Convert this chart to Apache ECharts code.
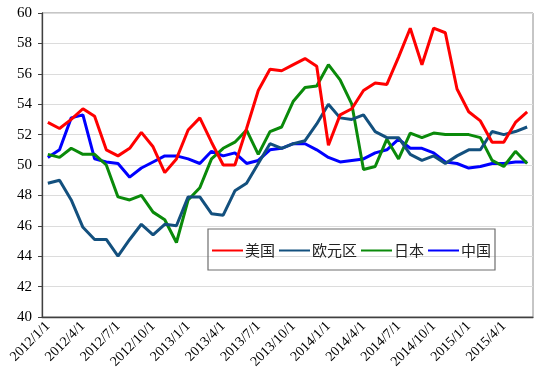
<!DOCTYPE html>
<html>
<head>
<meta charset="utf-8">
<script src="https://cdn.jsdelivr.net/npm/echarts@6/dist/echarts.min.js"></script>
<style>html,body{margin:0;padding:0;background:#fff}#c{width:550px;height:386px}</style>
</head>
<body>
<div id="c"></div>
<script>
var categories = [];
(function(){
  var y = 2012, m = 1;
  for (var i = 0; i < 42; i++) {
    categories.push(y + '/' + m + '/1');
    m++; if (m > 12) { m = 1; y++; }
  }
})();
var usa = [52.8,52.4,53.0,53.7,53.2,51.0,50.6,51.1,52.15,51.2,49.5,50.4,52.3,53.1,51.5,50.0,50.0,52.4,54.9,56.3,56.2,56.6,57.0,56.5,51.3,53.3,53.7,54.9,55.4,55.3,57.1,59.0,56.6,59.0,58.7,55.0,53.5,52.9,51.5,51.5,52.8,53.5];
var euro = [48.8,49.0,47.7,45.9,45.1,45.1,44.0,45.1,46.1,45.4,46.1,46.0,47.9,47.9,46.8,46.7,48.3,48.8,50.1,51.4,51.1,51.4,51.6,52.7,54.0,53.1,53.0,53.3,52.2,51.8,51.8,50.7,50.3,50.6,50.1,50.6,51.0,51.0,52.2,52.0,52.2,52.5];
var japan = [50.7,50.5,51.1,50.7,50.7,50.0,47.9,47.7,48.0,46.9,46.4,44.9,47.7,48.5,50.4,51.1,51.5,52.3,50.7,52.2,52.5,54.2,55.1,55.2,56.6,55.6,54.0,49.7,49.9,51.7,50.4,52.1,51.8,52.1,52.0,52.0,52.0,51.8,50.3,49.9,50.9,50.1];
var china = [50.5,51.0,53.1,53.3,50.4,50.2,50.1,49.2,49.8,50.2,50.6,50.6,50.4,50.1,50.9,50.6,50.8,50.1,50.3,51.0,51.1,51.4,51.4,51.0,50.5,50.2,50.3,50.4,50.8,51.0,51.7,51.1,51.1,50.8,50.2,50.1,49.8,49.9,50.1,50.1,50.2,50.2];
var seriesNames = ['美国','欧元区','日本','中国'];
var seriesColors = ['#ff0000','#13507e','#0a8a0a','#0000ff'];
var seriesData = [usa, euro, japan, china];

var chart = echarts.init(document.getElementById('c'), null, {renderer:'canvas'});
var serif = '"Liberation Serif","Times New Roman",serif';
chart.setOption({
  animation: false,
  backgroundColor: '#ffffff',
  grid: {left: 42, right: 17, top: 13, bottom: 69, show: true, borderColor: '#8c8c8c', borderWidth: 1},
  legend: {
    left: 208, top: 229, width: 300, height: 46,
    padding: [14, 4, 12, 4],
    borderColor: '#6e6e6e', borderWidth: 1.2,
    itemWidth: 31, itemHeight: 10, itemGap: 4,
    icon: 'path://M0,4 L31,4 L31,6 L0,6 Z',
    textStyle: {fontFamily: '"Noto Sans CJK SC",sans-serif', fontSize: 15, color: '#222', padding: [0,0,0,-3]},
    data: seriesNames
  },
  xAxis: {
    type: 'category', data: categories, boundaryGap: true,
    axisLine: {lineStyle: {color: '#404040', width: 1.3}},
    axisTick: {inside: true, length: 4, interval: 2, lineStyle: {color: '#404040'}},
    axisLabel: {interval: 2, rotate: 45, fontFamily: serif, fontSize: 14, color: '#000', margin: 7},
    splitLine: {show: false}
  },
  yAxis: {
    type: 'value', min: 40, max: 60, interval: 2,
    axisLine: {show: true, lineStyle: {color: '#404040', width: 1.3}},
    axisTick: {show: true, length: 4, lineStyle: {color: '#404040'}},
    axisLabel: {fontFamily: serif, fontSize: 15, color: '#000', margin: 10},
    splitLine: {lineStyle: {color: '#dcdcdc', width: 1}}
  },
  series: seriesNames.map(function(n, k){
    return {
      name: n, type: 'line', data: seriesData[k], symbol: 'none',
      lineStyle: {color: seriesColors[k], width: 3},
      itemStyle: {color: seriesColors[k]},
      z: 10 - k
    };
  })
});
</script>
</body>
</html>
